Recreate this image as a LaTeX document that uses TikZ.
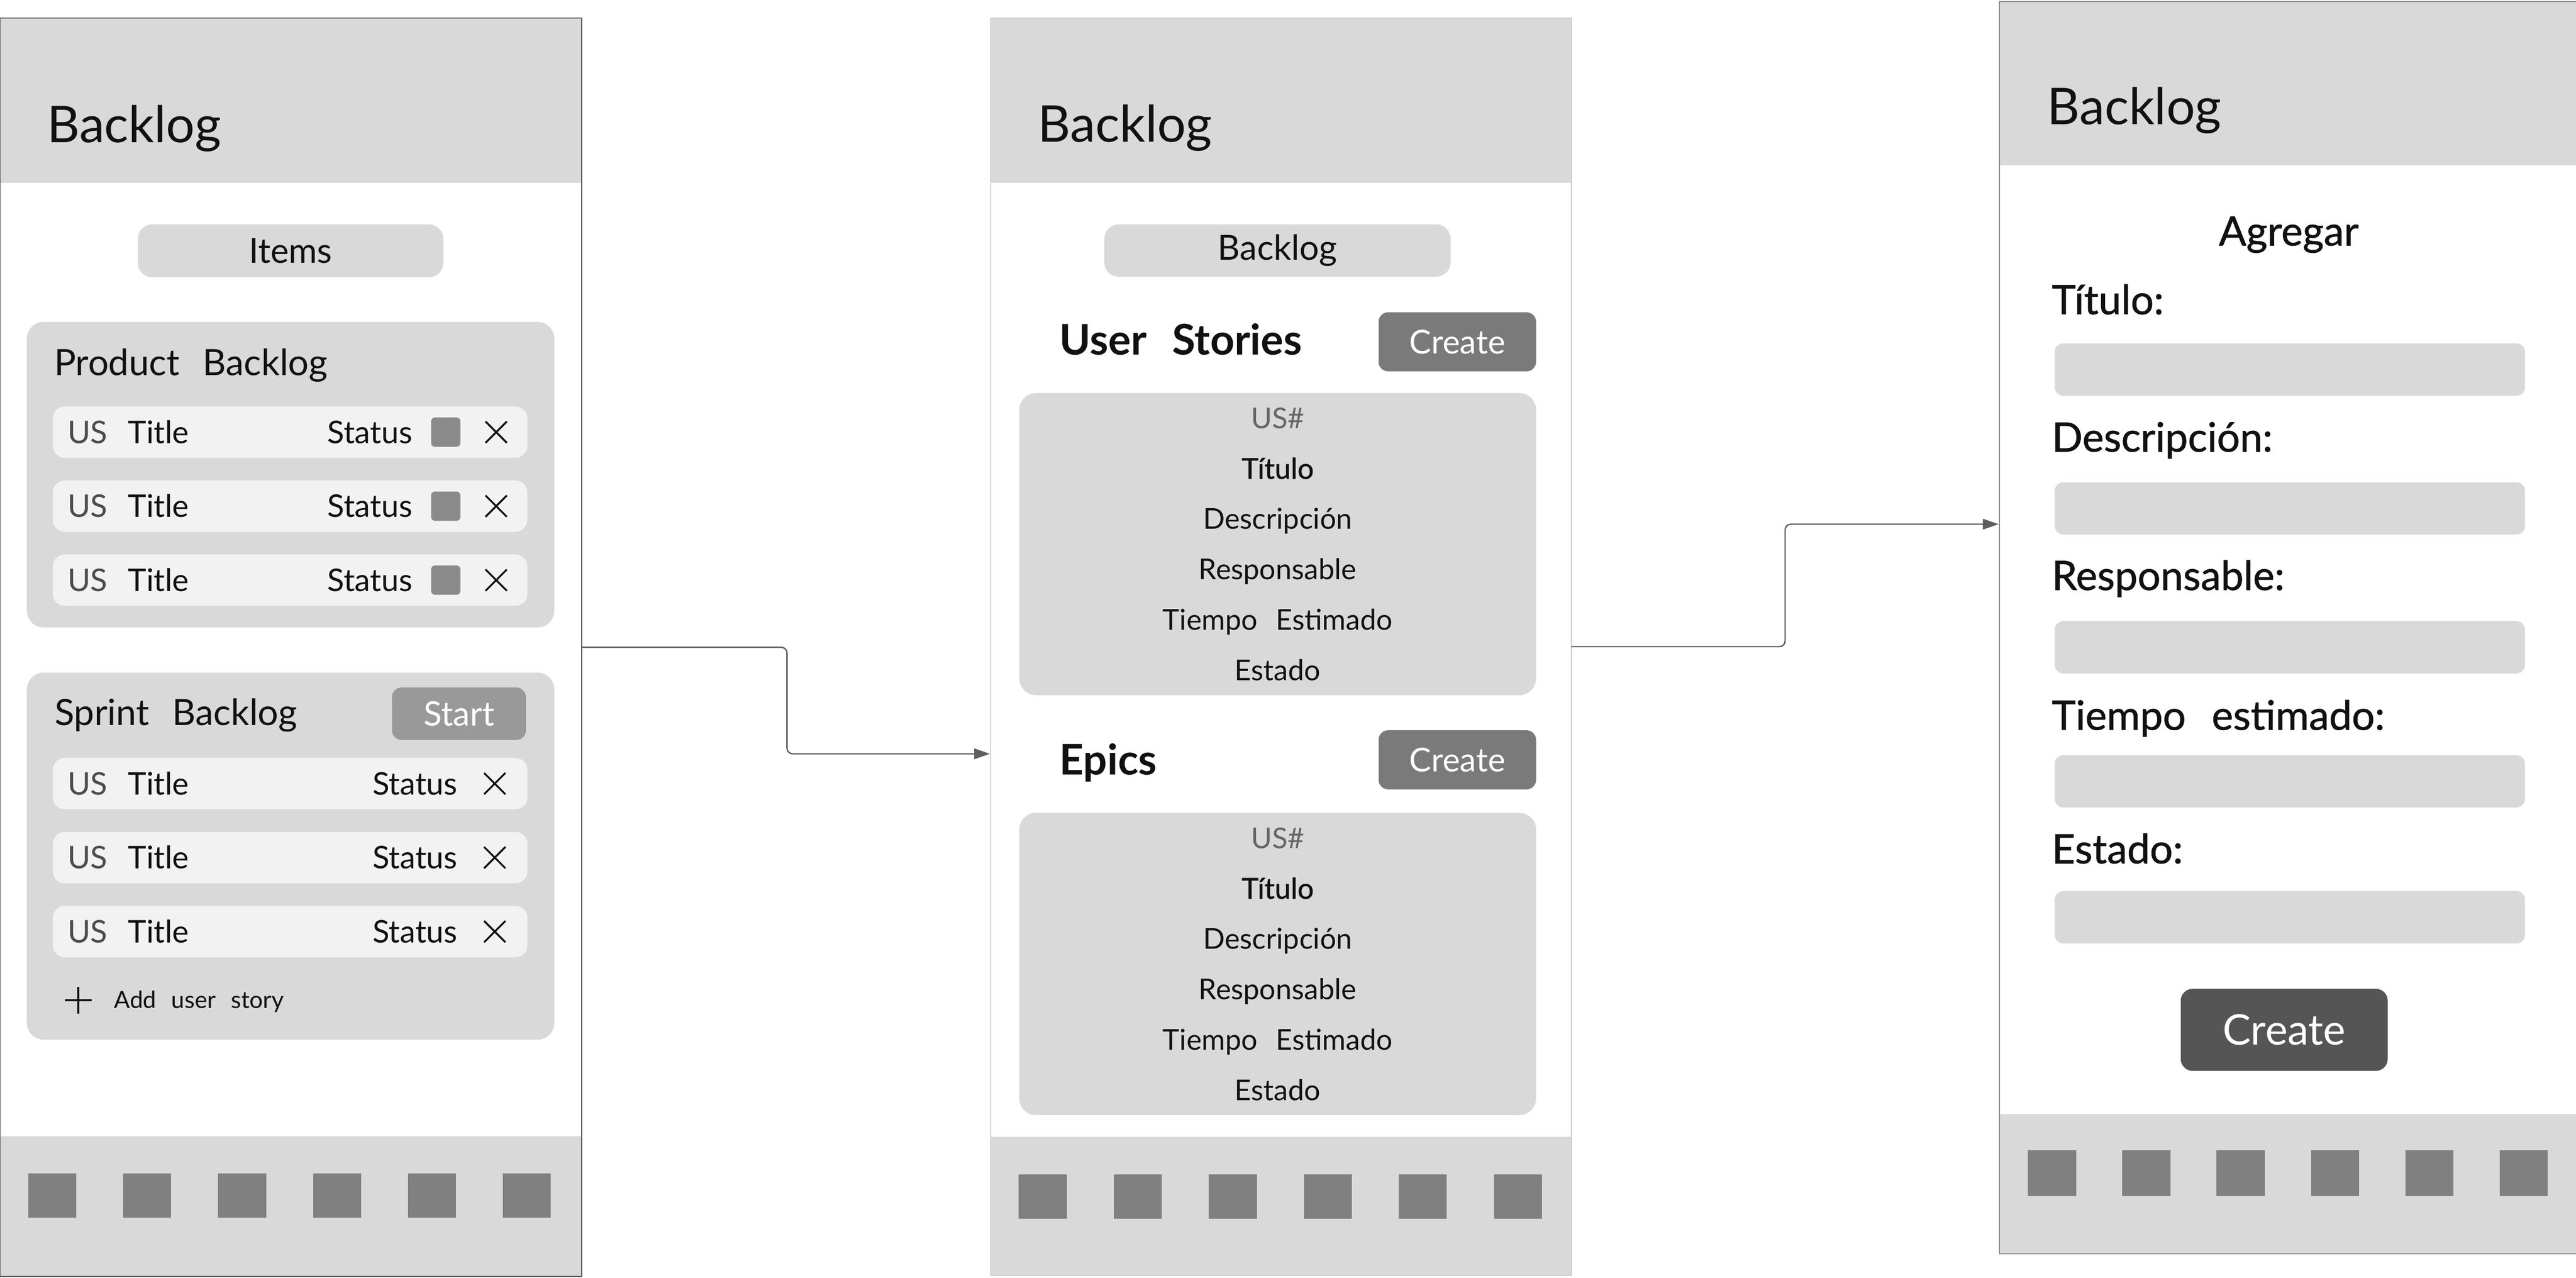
\documentclass[tikz,border=0pt]{standalone}
\usepackage{fontspec}
\setmainfont{Lato}[WordSpace=2.5]
\newfontfamily\semifont{Lato}[FakeBold=1,WordSpace=2.5]
\usetikzlibrary{arrows.meta,positioning}

\definecolor{bargray}{HTML}{D9D9D9}
\definecolor{rowgray}{HTML}{F2F2F2}
\definecolor{icongray}{HTML}{808080}
\definecolor{tickgray}{HTML}{8A8A8A}
\definecolor{linegray}{HTML}{5F5F5F}
\definecolor{startgray}{HTML}{999999}
\definecolor{creategray}{HTML}{7A7A7A}
\definecolor{darkbtn}{HTML}{555555}
\definecolor{ink}{HTML}{111111}

\tikzset{
  screen/.style={fill=white, inner sep=0pt, anchor=north west},
  rim/.style={draw=#1, line width=0.6pt},
  hdr/.style={anchor=base west, inner sep=0pt, text=ink, font=\fontsize{30}{32}\selectfont},
  pill/.style={fill=bargray, rounded corners=0.3cm, inner sep=0pt, text=ink, font=\fontsize{20.5}{22}\selectfont},
  card/.style={fill=bargray, rounded corners=0.35cm, inner sep=0pt},
  cardtitle/.style={anchor=base west, inner sep=0pt, text=ink, font=\fontsize{21.5}{23}\selectfont},
  usrow/.style={fill=rowgray, rounded corners=0.25cm, inner sep=0pt, minimum width=9.88cm, minimum height=1.07cm},
  rowtxt/.style={inner sep=0pt, text=ink, font=\fontsize{18.5}{20}\selectfont},
  statusbox/.style={fill=tickgray, rounded corners=0.08cm, minimum size=0.61cm, inner sep=0pt},
  xmark/.style={minimum size=0.43cm, inner sep=0pt},
  icon/.style={fill=icongray, minimum width=1.0cm, inner sep=0pt},
  btn/.style={fill=#1, rounded corners=0.2cm, inner sep=0pt, text=white},
  item/.style={anchor=base, inner sep=0pt, text=ink, font=\fontsize{17}{18}\selectfont},
  section/.style={anchor=base west, inner sep=0pt, text=ink, font=\fontsize{25}{27}\selectfont\bfseries},
  flabel/.style={anchor=base west, inner sep=0pt, text=ink, font=\fontsize{24}{26}\selectfont\semifont},
  field/.style={fill=bargray, rounded corners=0.18cm, minimum width=9.79cm, minimum height=1.09cm, inner sep=0pt, anchor=north west},
  conn/.style={draw=linegray, line width=0.8pt, rounded corners=0.12cm, -{Triangle[length=0.33cm,width=0.22cm]}}
}

\begin{document}
\begin{tikzpicture}
  \useasboundingbox (0,0) rectangle (53.63,-26.59);

  % the three screens
  \node[screen, minimum width=12.10cm, minimum height=26.17cm] (p1) at (0,-0.38) {};
  \node[screen, minimum width=12.07cm, minimum height=26.155cm] (p2) at (20.63,-0.375) {};
  \node[screen, minimum width=12.07cm, minimum height=26.05cm] (p3) at (41.63,-0.03) {};

  \fill[bargray] (p1.north west) rectangle ([yshift=-3.43cm]p1.north east);
  \fill[bargray] (p1.south west) rectangle ([yshift=2.91cm]p1.south east);
  \fill[bargray] (p2.north west) rectangle ([yshift=-3.435cm]p2.north east);
  \fill[bargray] (p2.south west) rectangle ([yshift=2.88cm]p2.south east);
  \fill[bargray] (p3.north west) rectangle ([yshift=-3.41cm]p3.north east);
  \fill[bargray] (p3.south west) rectangle ([yshift=2.90cm]p3.south east);

  \draw[rim=black!65] (p1.north west) rectangle (p1.south east);
  \draw[rim=black!20] (p2.north west) rectangle (p2.south east);
  \draw[rim=black!45] (p3.north west) rectangle (p3.south east);

  % screen 1
  \node[hdr] (h1) at (0.97,-2.97) {Backlog};
  \node[pill, minimum width=6.36cm, minimum height=1.10cm] (items) at (6.05,-5.22) {Items};

  \node[card, minimum width=10.98cm, minimum height=6.36cm] (pb) at (6.05,-9.88) {};
  \node[cardtitle] (pbt) at (1.12,-7.81) {Product Backlog};
  \foreach \i/\y in {1/-8.995, 2/-10.535, 3/-12.075} {
    \node[usrow] (pr\i) at (6.04,\y) {};
    \node[rowtxt, anchor=base west, text=ink!75] (pu\i) at (1.40,\y-0.23) {US};
    \node[rowtxt, anchor=base west] (pt\i) at (2.66,\y-0.23) {Title};
    \node[rowtxt, anchor=base east] (ps\i) at (8.59,\y-0.23) {Status};
    \node[statusbox] (pq\i) at (9.28,\y) {};
    \node[xmark] (px\i) at (10.33,\y) {};
    \draw[ink, line width=1.1pt] (px\i.north west) -- (px\i.south east)
      (px\i.north east) -- (px\i.south west);
  }

  \node[card, minimum width=10.98cm, minimum height=7.64cm] (sb) at (6.05,-17.82) {};
  \node[cardtitle] (sbt) at (1.13,-15.10) {Sprint Backlog};
  \node[btn=startgray, minimum width=2.79cm, minimum height=1.09cm, font=\fontsize{20}{22}\selectfont] (start) at (9.555,-14.855) {Start};
  \foreach \i/\y in {1/-16.31, 2/-17.85, 3/-19.39} {
    \node[usrow] (sr\i) at (6.04,\y) {};
    \node[rowtxt, anchor=base west, text=ink!75] (su\i) at (1.40,\y-0.23) {US};
    \node[rowtxt, anchor=base west] (st\i) at (2.66,\y-0.23) {Title};
    \node[rowtxt, anchor=base east] (ss\i) at (9.53,\y-0.23) {Status};
    \node[xmark] (sx\i) at (10.30,\y) {};
    \draw[ink, line width=1.1pt] (sx\i.north west) -- (sx\i.south east)
      (sx\i.north east) -- (sx\i.south west);
  }
  \node[xmark, minimum size=0.54cm] (plus) at (1.63,-20.82) {};
  \draw[ink, line width=1.1pt] (plus.north) -- (plus.south) (plus.west) -- (plus.east);
  \node[anchor=base west, inner sep=0pt, text=ink, font=\fontsize{14}{15}\selectfont] (add) at (2.37,-20.99) {Add user story};

  \foreach \k in {0,...,5}
    \node[icon, minimum height=0.93cm] (fa\k) at (1.09+1.976*\k,-24.885) {};

  % screen 2
  \node[hdr] (h2) at (21.60,-2.95) {Backlog};
  \node[pill, minimum width=7.21cm, minimum height=1.09cm] (blg) at (26.595,-5.215) {Backlog};

  \node[section] (ust) at (22.05,-7.38) {User Stories};
  \node[btn=creategray, minimum width=3.28cm, minimum height=1.23cm, font=\fontsize{19.5}{21}\selectfont] (cr1) at (30.34,-7.115) {Create};
  \node[section] (ept) at (22.05,-16.13) {Epics};
  \node[btn=creategray, minimum width=3.28cm, minimum height=1.23cm, font=\fontsize{19.5}{21}\selectfont] (cr2) at (30.34,-15.815) {Create};

  \foreach \b/\t in {us/-8.18, ep/-16.92} {
    \node[card, minimum width=10.76cm, minimum height=6.29cm] (box\b) at (26.60,\t-3.145) {};
    \node[item, text=black!60] (\b0) at (26.60,\t-0.735) {US\#};
    \node[item] (\b1) at (26.60,\t-1.785) {\semifont Título};
    \node[item] (\b2) at (26.60,\t-2.835) {Descripción};
    \node[item] (\b3) at (26.60,\t-3.885) {Responsable};
    \node[item] (\b4) at (26.60,\t-4.935) {Tiempo Estimado};
    \node[item] (\b5) at (26.60,\t-5.985) {Estado};
  }

  \foreach \k in {0,...,5}
    \node[icon, minimum height=0.93cm] (fb\k) at (21.71+1.978*\k,-24.905) {};

  % screen 3
  \node[hdr] (h3) at (42.61,-2.59) {Backlog};
  \node[anchor=base, inner sep=0pt, text=ink, font=\fontsize{24}{26}\selectfont\semifont] (agr) at (47.65,-5.11) {Agregar};
  \foreach \n/\txt/\lb/\ft in {1/Título:/-6.54/-7.14, 2/Descripción:/-9.40/-10.03,
      3/Responsable:/-12.28/-12.92, 4/Tiempo estimado:/-15.19/-15.71, 5/Estado:/-17.97/-18.54} {
    \node[flabel] (lab\n) at (42.71,\lb) {\txt};
    \node[field] (fld\n) at (42.77,\ft) {};
  }
  \node[btn=darkbtn, rounded corners=0.25cm, minimum width=4.31cm, minimum height=1.71cm, font=\fontsize{25}{27}\selectfont] (cr3) at (47.555,-21.435) {Create};

  \foreach \k in {0,...,5}
    \node[icon, minimum height=0.96cm] (fc\k) at (42.72+1.964*\k,-24.42) {};

  % links between the screens
  \coordinate (in2) at (20.61,-15.69);
  \coordinate (in3) at (41.61,-10.91);
  \draw[conn] (p1.east) -- ++(4.27,0) |- (in2);
  \draw[conn] (p2.east) -- ++(4.45,0) |- (in3);
\end{tikzpicture}
\end{document}
